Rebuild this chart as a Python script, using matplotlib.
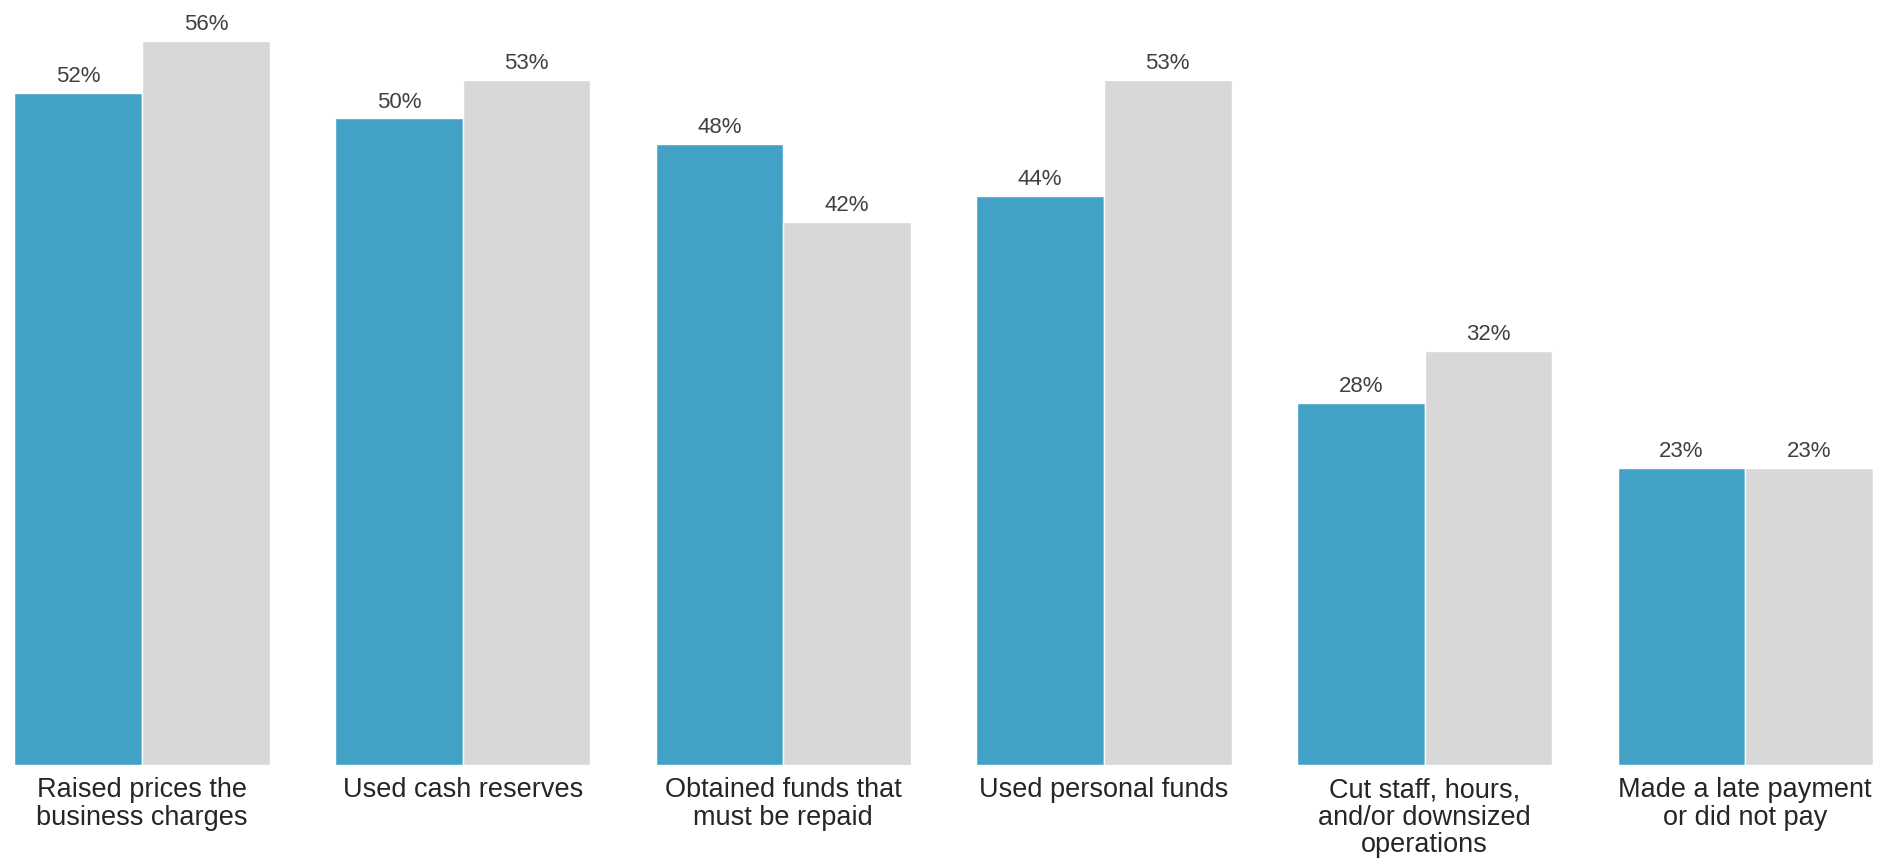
import numpy as np
import matplotlib.pyplot as plt

categories = [
    'Raised prices the\nbusiness charges',
    'Used cash reserves',
    'Obtained funds that\nmust be repaid',
    'Used personal funds',
    'Cut staff, hours,\nand/or downsized\noperations',
    'Made a late payment\nor did not pay',
]
series_a = [52, 50, 48, 44, 28, 23]
series_b = [56, 53, 42, 53, 32, 23]

blue = '#42A2C6'
gray = '#D8D8D8'

plt.rcParams['font.family'] = ['Liberation Sans', 'DejaVu Sans']

fig = plt.figure(figsize=(18.83, 8.62), dpi=100)
ax = fig.add_axes([0, 0.1114, 1, 0.8886])

x = np.arange(len(categories))
w = 0.398
bars_a = ax.bar(x - w / 2, series_a, w, color=blue, edgecolor='white', linewidth=1)
bars_b = ax.bar(x + w / 2, series_b, w, color=gray, edgecolor='white', linewidth=1)

for bars in (bars_a, bars_b):
    ax.bar_label(bars, labels=[f'{v}%' for v in bars.datavalues],
                 padding=5, fontsize=16, color='#404040')

ax.set_xlim(-0.443, 5.43)
ax.set_ylim(0, 59.24)
ax.set_xticks(x)
ax.set_xticklabels(categories, fontsize=19.5, color='#262626', linespacing=1.08)
ax.tick_params(axis='x', length=0, pad=8)
ax.set_yticks([])
for s in ax.spines.values():
    s.set_visible(False)

fig.savefig('out.png', dpi=100)
